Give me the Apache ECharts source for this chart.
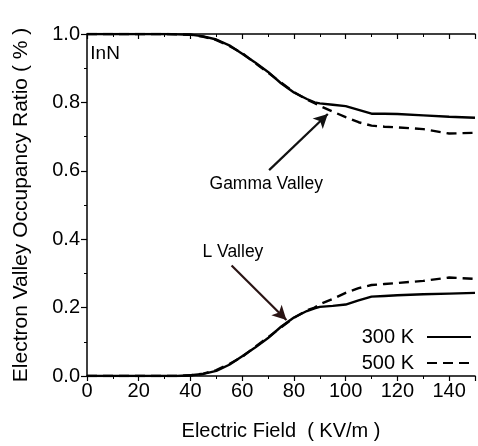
<!DOCTYPE html>
<html><head><meta charset="utf-8">
<script src="https://cdn.jsdelivr.net/npm/echarts@6/dist/echarts.min.js"></script>
<style>html,body{margin:0;padding:0;background:#fff}#c{width:478px;height:446px}</style>
</head><body><div id="c"></div>
<script>
const fieldKVm = [0,10,20,30,35,40,45,50,55,60,65,70,75,80,85,88,90,95,100,105,110,115,120,130,140,150];
const gamma300 = [1.0,1.0,1.0,1.0,0.999,0.998,0.993,0.984,0.967,0.942,0.917,0.889,0.856,0.829,0.810,0.800,0.797,0.793,0.789,0.778,0.767,0.767,0.766,0.762,0.758,0.755];
const gamma500 = [1.0,1.0,1.0,1.0,0.999,0.998,0.992,0.982,0.965,0.944,0.915,0.887,0.858,0.830,0.808,0.798,0.790,0.773,0.757,0.742,0.732,0.729,0.727,0.722,0.709,0.711];
const lValley300 = [0,0,0,0,0,0.002,0.006,0.015,0.033,0.058,0.083,0.111,0.144,0.171,0.190,0.198,0.202,0.205,0.209,0.221,0.232,0.234,0.236,0.239,0.241,0.243];
const lValley500 = [0,0,0,0,0,0.002,0.007,0.017,0.035,0.056,0.085,0.113,0.142,0.170,0.192,0.200,0.210,0.225,0.243,0.257,0.266,0.269,0.272,0.278,0.288,0.284];
const xTicks = [0,20,40,60,80,100,120,140];
const yTicks = [0.0,0.2,0.4,0.6,0.8,1.0];
const gammaArrow = [[70.4,0.602],[93.1,0.766]];
const lArrow = [[55.9,0.323],[77.1,0.164]];
const gammaLabelAt = [69.3,0.56];
const lLabelAt = [56.4,0.362];
const sampleLabelAt = [7.0,0.943];

const F = 'Liberation Sans, Arial, sans-serif';
const pair = (xs, ys) => xs.map((x,i)=>[x, ys[i]]);

const chart = echarts.init(document.getElementById('c'), null, {renderer:'canvas'});
const solid = {color:'#000', width:2.4, type:'solid'};
const dashed = {color:'#000', width:2.4, type:[10,6]};
function arrow(pts, color){
  return {silent:true, symbol:['none','arrow'], symbolSize:[11,14],
    label:{show:false}, lineStyle:{color:color, width:2.2, type:'solid'},
    emphasis:{disabled:true},
    data:[[{coord:pts[0]},{coord:pts[1]}]]};
}
function textPt(at, txt, size){
  return {coord:at, symbol:'circle', symbolSize:0, value:txt,
    label:{show:true, position:'inside', formatter:txt, color:'#000', fontFamily:F, fontSize:size}};
}
chart.setOption({
  animation:false,
  backgroundColor:'#fff',
  grid:{left:87, top:34, width:397, height:346, containLabel:false},
  xAxis:[{
    type:'value', min:0, max:150, interval:20, position:'bottom',
    name:'Electric Field  ( KV/m )', nameLocation:'middle', nameGap:45,
    nameTextStyle:{fontFamily:F, fontSize:20, color:'#000'},
    axisLine:{show:true, onZero:false, lineStyle:{color:'#000', width:1.5}},
    axisTick:{show:true, inside:false, length:5, lineStyle:{color:'#000', width:1.2}},
    minorTick:{show:true, splitNumber:2, length:3, lineStyle:{color:'#000', width:1}},
    axisLabel:{fontFamily:F, fontSize:20, color:'#000', margin:5,
      formatter:v=> xTicks.includes(v) ? String(v) : ''},
    splitLine:{show:false}
  },{
    type:'value', min:0, max:150, interval:20, position:'top',
    axisLine:{show:true, onZero:false, lineStyle:{color:'#000', width:1.5}},
    axisTick:{show:true, inside:true, length:5, lineStyle:{color:'#000', width:1.2}},
    minorTick:{show:true, splitNumber:2, length:3, lineStyle:{color:'#000', width:1}},
    axisLabel:{show:false}, splitLine:{show:false}
  }],
  yAxis:{
    type:'value', min:0, max:1.0, interval:0.2,
    name:'Electron Valley Occupancy Ratio ( % )', nameLocation:'middle', nameGap:55,
    nameTextStyle:{fontFamily:F, fontSize:21, color:'#000'},
    axisLine:{show:true, onZero:false, lineStyle:{color:'#000', width:1.5}},
    axisTick:{show:true, inside:false, length:6, lineStyle:{color:'#000', width:1.2}},
    minorTick:{show:true, splitNumber:2, length:3, lineStyle:{color:'#000', width:1}},
    axisLabel:{fontFamily:F, fontSize:20, color:'#000', margin:7,
      formatter:v=>{ const t = yTicks.find(y=>Math.abs(y-v)<1e-6); return t===undefined?'':t.toFixed(1); }},
    splitLine:{show:false}
  },
  legend:{
    orient:'vertical', right:1, top:322, align:'right', itemGap:6,
    itemWidth:44, itemHeight:14, data:['300 K','500 K'],
    itemStyle:{color:'rgba(0,0,0,0)', borderColor:'rgba(0,0,0,0)', borderWidth:0},
    textStyle:{fontFamily:F, fontSize:20, color:'#000', padding:[0,8,0,0]},
    selectedMode:false
  },
  series:[
    {name:'300 K', type:'line', data:pair(fieldKVm,gamma300), symbol:'none', lineStyle:solid, itemStyle:{color:'#000'},
      markLine:arrow(gammaArrow,'#111'),
      markPoint:{silent:true, data:[textPt(gammaLabelAt,'Gamma Valley',17.5), textPt(sampleLabelAt,'InN',19)]}},
    {name:'500 K', type:'line', data:pair(fieldKVm,gamma500), symbol:'none', lineStyle:dashed, itemStyle:{color:'#000'}},
    {name:'300 K', type:'line', data:pair(fieldKVm,lValley300), symbol:'none', lineStyle:solid, itemStyle:{color:'#000'},
      markLine:arrow(lArrow,'#2a1414'),
      markPoint:{silent:true, data:[textPt(lLabelAt,'L Valley',17.5)]}},
    {name:'500 K', type:'line', data:pair(fieldKVm,lValley500), symbol:'none', lineStyle:dashed, itemStyle:{color:'#000'}}
  ]
});
</script>
</body></html>
